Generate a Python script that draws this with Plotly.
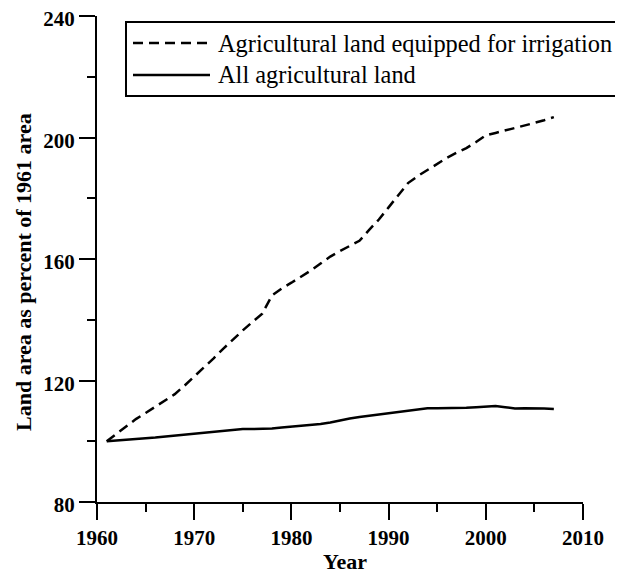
import plotly.graph_objects as go

years = list(range(1961, 2008))

irrigated = [100.0, 102.5, 105.0, 107.3, 109.3, 111.4, 113.3, 115.5, 118.3, 121.2,
             124.2, 127.3, 130.5, 133.6, 136.5, 139.3, 142.0, 148.0, 150.3, 152.2,
             154.2, 156.2, 158.5, 160.8, 162.6, 164.2, 166.0, 169.6, 173.0, 177.0,
             181.0, 185.0, 187.3, 189.3, 191.3, 193.3, 195.0, 196.5, 198.5, 200.7,
             201.5, 202.3, 203.0, 203.8, 204.8, 205.7, 206.7]

all_land = [100.0, 100.3, 100.5, 100.7, 101.0, 101.2, 101.5, 101.8, 102.3, 102.5,
            102.8, 103.1, 103.5, 103.8, 104.0, 104.0, 104.0, 104.2, 104.5, 104.8,
            105.0, 105.3, 105.7, 106.2, 106.9, 107.5, 108.0, 108.4, 108.8, 109.2,
            109.6, 110.0, 110.6, 110.9, 110.9, 110.9, 110.9, 111.0, 111.2, 111.4,
            111.6, 111.2, 110.8, 110.9, 110.9, 110.8, 110.6]

x_ticks = [1960, 1970, 1980, 1990, 2000, 2010]
y_ticks = [80, 120, 160, 200, 240]

legend_labels = ["Agricultural land equipped for irrigation", "All agricultural land"]
x_title = "Year"
y_title = "Land area as percent of 1961 area"

FONT = "Liberation Serif"
DASH = "10px,6px"

fig = go.Figure()
fig.add_trace(go.Scatter(x=years, y=irrigated, mode="lines", name=legend_labels[0],
                         line=dict(color="black", width=2.5, dash=DASH)))
fig.add_trace(go.Scatter(x=years, y=all_land, mode="lines", name=legend_labels[1],
                         line=dict(color="black", width=2.5)))

# page offset from default body margin (8px); figure sized to fit the window
OFF = 8
VW, VH = 623, 573
W, H = VW - OFF, VH - OFF
PX0, PX1 = 97, 583   # plot left/right in screen pixels
PY0, PY1 = 16, 502   # plot top/bottom in screen pixels
L = PX0 - OFF
T = PY0 - OFF
PW = PX1 - PX0
PH = PY1 - PY0
R = W - L - PW
B = H - T - PH


def px_x(p):
    return (p - PX0) / PW


def px_y(p):
    return (PY1 - p) / PH


# custom legend frame: left, top and bottom edges (right edge runs off the page)
box = dict(color="black", width=2)
fig.add_shape(type="line", xref="paper", yref="paper",
              x0=px_x(126), x1=px_x(126), y0=px_y(96), y1=px_y(22), line=box)
fig.add_shape(type="line", xref="paper", yref="paper",
              x0=px_x(125), x1=px_x(700), y0=px_y(22), y1=px_y(22), line=box)
fig.add_shape(type="line", xref="paper", yref="paper",
              x0=px_x(125), x1=px_x(700), y0=px_y(96), y1=px_y(96), line=box)
rows_y = [43, 75]
dashes = [DASH, "solid"]
for lab, ry, d in zip(legend_labels, rows_y, dashes):
    fig.add_shape(type="line", xref="paper", yref="paper",
                  x0=px_x(133), x1=px_x(210), y0=px_y(ry), y1=px_y(ry),
                  line=dict(color="black", width=2.5, dash=d))
    fig.add_annotation(text=lab, xref="paper", yref="paper",
                       x=px_x(216), y=px_y(ry), xanchor="left", yanchor="middle",
                       showarrow=False, font=dict(family=FONT, size=24.4, color="black"))

fig.add_annotation(text=y_title, xref="paper", yref="paper", textangle=-90,
                   x=px_x(23), y=px_y(272), xanchor="center", yanchor="middle",
                   showarrow=False,
                   font=dict(family=FONT, size=22, color="black", weight="bold"))
fig.add_annotation(text=x_title, xref="paper", yref="paper",
                   x=px_x(345), y=px_y(561), xanchor="center", yanchor="middle",
                   showarrow=False,
                   font=dict(family=FONT, size=22, color="black", weight="bold"))

axis_common = dict(
    showline=True, linecolor="black", linewidth=2,
    showgrid=False, zeroline=False,
    ticks="outside", ticklen=16, tickwidth=2, tickcolor="black",
    tickfont=dict(family=FONT, size=21, color="black", weight="bold"),
    ticklabeloverflow="allow",
)

fig.update_xaxes(range=[1960, 2010], tickvals=x_ticks, ticktext=[str(v) for v in x_ticks],
                 minor=dict(ticks="outside", ticklen=8, tickwidth=2, tickcolor="black",
                            tickvals=[1965, 1975, 1985, 1995, 2005]),
                 **axis_common)
fig.update_yaxes(range=[80, 240], tickvals=y_ticks, ticktext=[str(v) for v in y_ticks],
                 ticklabelshift=3,
                 minor=dict(ticks="outside", ticklen=8, tickwidth=2, tickcolor="black",
                            tickvals=[100, 140, 180, 220]),
                 **axis_common)

fig.update_layout(
    width=W, height=H,
    margin=dict(l=L, r=R, t=T, b=B, pad=0, autoexpand=False),
    paper_bgcolor="white", plot_bgcolor="white",
    showlegend=False,
    font=dict(family=FONT, color="black"),
)

fig.write_html("out.html")
